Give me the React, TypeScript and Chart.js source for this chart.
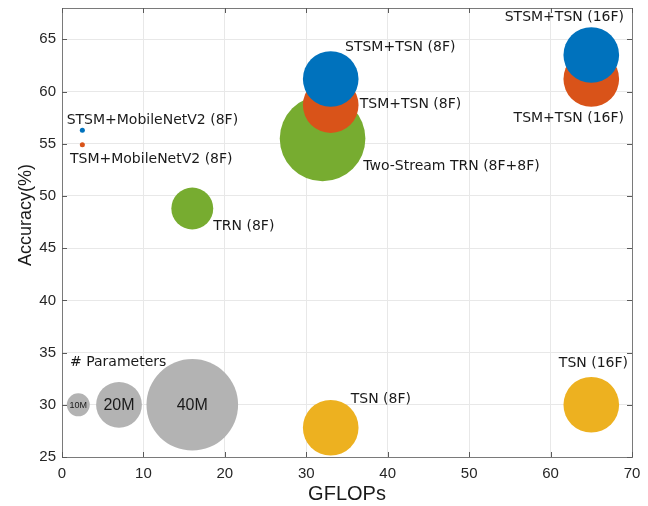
import React, { useEffect, useRef } from "react";
import { Chart, registerables, BubbleController } from "chart.js";

Chart.register(...registerables);
// keep the plot area independent of bubble sizes (no automatic overflow padding)
(BubbleController.prototype as any).getMaxOverflow = function () {
  return false;
};

// ---- data ----
const stsmLabels = ["STSM+MobileNetV2 (8F)", "STSM+TSN (8F)", "STSM+TSN (16F)"];
const stsmGflops = [2.5, 33, 65];
const stsmAccuracy = [56.3, 61.2, 63.5];
const stsmParams = [2.2, 24.3, 24.3];

const tsmLabels = ["TSM+MobileNetV2 (8F)", "TSM+TSN (8F)", "TSM+TSN (16F)"];
const tsmGflops = [2.5, 33, 65];
const tsmAccuracy = [54.9, 58.7, 61.2];
const tsmParams = [2.2, 24.3, 24.3];

const trnLabels = ["TRN (8F)", "Two-Stream TRN (8F+8F)"];
const trnGflops = [16, 32];
const trnAccuracy = [48.8, 55.5];
const trnParams = [18.3, 37.4];

const tsnLabels = ["TSN (8F)", "TSN (16F)"];
const tsnGflops = [33, 65];
const tsnAccuracy = [27.8, 30];
const tsnParams = [24.3, 24.3];

const sizeLabels = ["10M", "20M", "40M"];
const sizeGflops = [2, 7, 16];
const sizeAccuracy = [30, 30, 30];
const sizeParams = [10, 20, 40];

const xTicks = [0, 10, 20, 30, 40, 50, 60, 70];
const yTicks = [25, 30, 35, 40, 45, 50, 55, 60, 65];

// ---- styling / label placement (pixels relative to bubble centre) ----
const RADIUS_PER_PARAM = 1.145;
type Off = { dx: number; dy: number; align: CanvasTextAlign };
const stsmOffsets: Off[] = [
  { dx: -15.7, dy: -10, align: "left" },
  { dx: 14.3, dy: -32, align: "left" },
  { dx: 32.7, dy: -37.7, align: "right" },
];
const tsmOffsets: Off[] = [
  { dx: -12.4, dy: 15, align: "left" },
  { dx: 29, dy: -1, align: "left" },
  { dx: 32.7, dy: 39, align: "right" },
];
const trnOffsets: Off[] = [
  { dx: 21, dy: 18, align: "left" },
  { dx: 40.7, dy: 28, align: "left" },
];
const tsnOffsets: Off[] = [
  { dx: 20, dy: -28, align: "left" },
  { dx: 36.7, dy: -41, align: "right" },
];
const sizeFonts = [9, 16, 16];

const mk = (xs: number[], ys: number[], ps: number[]) =>
  xs.map((x, i) => ({ x, y: ys[i], r: ps[i] * RADIUS_PER_PARAM }));

const labelSets = [
  { labels: stsmLabels, offsets: stsmOffsets },
  { labels: tsmLabels, offsets: tsmOffsets },
  { labels: trnLabels, offsets: trnOffsets },
  { labels: tsnLabels, offsets: tsnOffsets },
];

const annotPlugin = {
  id: "annot",
  afterDatasetsDraw(chart: any) {
    const ctx = chart.ctx as CanvasRenderingContext2D;
    ctx.save();
    ctx.fillStyle = "#1a1a1a";
    ctx.textBaseline = "middle";
    ctx.font = '14px "DejaVu Sans"';
    labelSets.forEach((set, di) => {
      const meta = chart.getDatasetMeta(di);
      meta.data.forEach((el: any, i: number) => {
        const o = set.offsets[i];
        ctx.textAlign = o.align;
        ctx.fillText(set.labels[i], el.x + o.dx, el.y + o.dy);
      });
    });
    // size legend
    const sm = chart.getDatasetMeta(4);
    sm.data.forEach((el: any, i: number) => {
      ctx.textAlign = "center";
      ctx.font = `${sizeFonts[i]}px "Liberation Sans"`;
      ctx.fillText(sizeLabels[i], el.x, el.y + 1);
    });
    const first = sm.data[0];
    ctx.textAlign = "left";
    ctx.font = '14px "DejaVu Sans"';
    ctx.fillText("# Parameters", first.x - 8.3, first.y - 42.5);
    ctx.restore();
  },
  afterDraw(chart: any) {
    const ctx = chart.ctx as CanvasRenderingContext2D;
    const a = chart.chartArea;
    const xs = chart.scales.x;
    const ys = chart.scales.y;
    ctx.save();
    ctx.strokeStyle = "#7a7a7a";
    ctx.lineWidth = 1;
    ctx.strokeRect(a.left + 0.5, a.top + 0.5, a.right - a.left, a.bottom - a.top);
    ctx.strokeStyle = "#5a5a5a";
    const L = 5;
    ctx.beginPath();
    xTicks.forEach((v) => {
      const px = Math.round(xs.getPixelForValue(v)) + 0.5;
      ctx.moveTo(px, a.bottom);
      ctx.lineTo(px, a.bottom - L);
      ctx.moveTo(px, a.top);
      ctx.lineTo(px, a.top + L);
    });
    yTicks.forEach((v) => {
      const py = Math.round(ys.getPixelForValue(v)) + 0.5;
      ctx.moveTo(a.left, py);
      ctx.lineTo(a.left + L, py);
      ctx.moveTo(a.right, py);
      ctx.lineTo(a.right - L, py);
    });
    ctx.stroke();
    // axis titles
    ctx.fillStyle = "#1a1a1a";
    ctx.font = '20px "Liberation Sans"';
    ctx.textAlign = "center";
    ctx.textBaseline = "middle";
    ctx.fillText("GFLOPs", (a.left + a.right) / 2, 494);
    ctx.font = '18px "Liberation Sans"';
    ctx.translate(26, 215);
    ctx.rotate(-Math.PI / 2);
    ctx.fillText("Accuracy(%)", 0, 0);
    ctx.restore();
  },
};

export default function App() {
  const ref = useRef<HTMLCanvasElement>(null);
  useEffect(() => {
    document.body.style.margin = "0";
    const chart = new Chart(ref.current!, {
      type: "bubble",
      data: {
        datasets: [
          { label: "STSM", data: mk(stsmGflops, stsmAccuracy, stsmParams), backgroundColor: "#0072BD" },
          { label: "TSM", data: mk(tsmGflops, tsmAccuracy, tsmParams), backgroundColor: "#D95319" },
          { label: "TRN", data: mk(trnGflops, trnAccuracy, trnParams), backgroundColor: "#77AC30" },
          { label: "TSN", data: mk(tsnGflops, tsnAccuracy, tsnParams), backgroundColor: "#EDB120" },
          { label: "# Parameters", data: mk(sizeGflops, sizeAccuracy, sizeParams), backgroundColor: "#B3B3B3" },
        ].map((d) => ({ ...d, borderWidth: 0, hoverBorderWidth: 0, clip: false as any })),
      },
      options: {
        animation: false,
        responsive: true,
        maintainAspectRatio: false,
        layout: { padding: { top: 8, right: 16, left: 0, bottom: 0 } },
        plugins: { legend: { display: false }, tooltip: { enabled: false } },
        scales: {
          x: {
            type: "linear",
            min: 0,
            max: 70,
            afterFit: (s: any) => { s.height = 49; s.paddingLeft = 0; s.paddingRight = 0; },
            afterBuildTicks: (s: any) => { s.ticks = xTicks.map((v) => ({ value: v })); },
            grid: { color: "#E8E8E8", drawTicks: false },
            border: { display: false },
            ticks: { padding: 8, color: "#262626", font: { family: "Liberation Sans", size: 15 } },
          },
          y: {
            type: "linear",
            min: 25,
            max: 68,
            afterFit: (s: any) => { s.width = 62; s.paddingTop = 0; s.paddingBottom = 0; },
            afterBuildTicks: (s: any) => { s.ticks = yTicks.map((v) => ({ value: v })); },
            grid: { color: "#E8E8E8", drawTicks: false },
            border: { display: false },
            ticks: { padding: 6, color: "#262626", font: { family: "Liberation Sans", size: 15 } },
          },
        },
      },
      plugins: [annotPlugin],
    });
    return () => chart.destroy();
  }, []);
  return (
    <div style={{ width: 648, height: 506, position: "relative" }}>
      <canvas ref={ref} />
    </div>
  );
}
